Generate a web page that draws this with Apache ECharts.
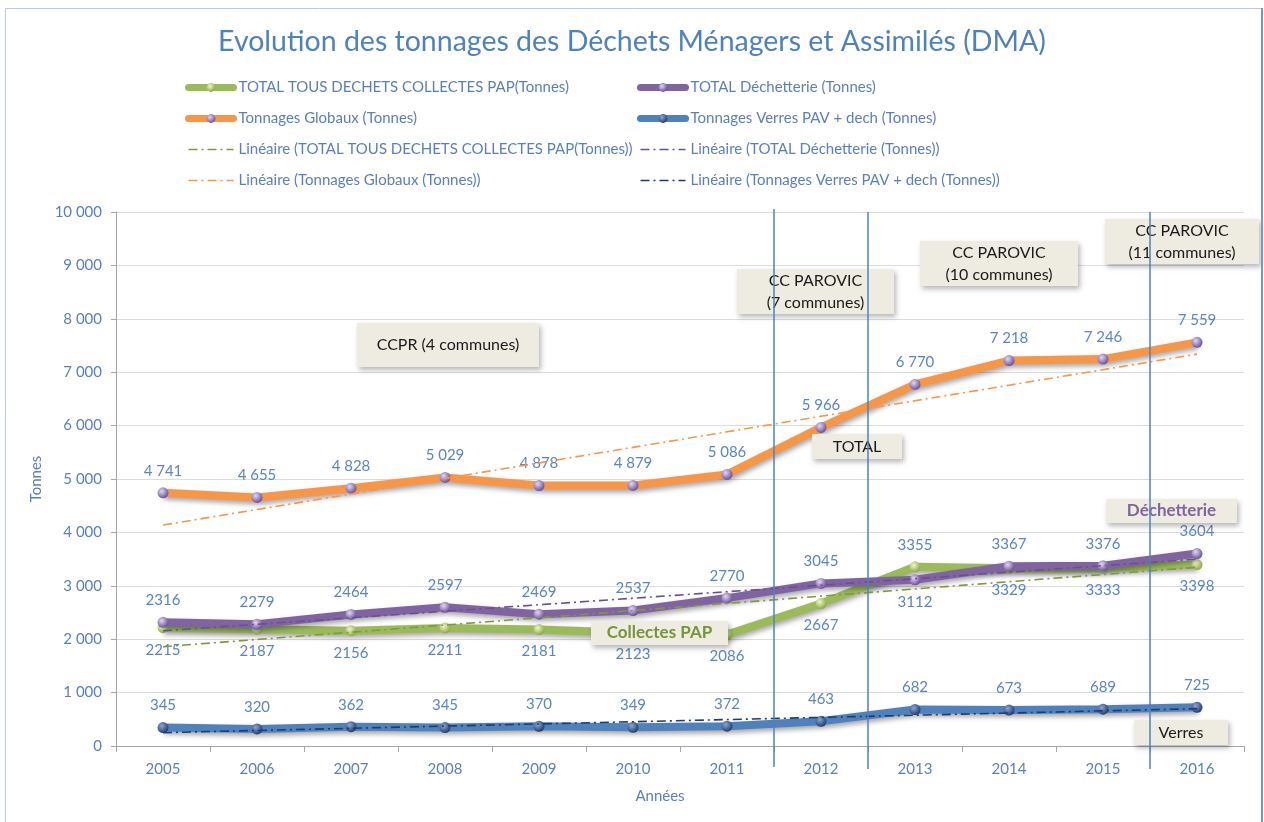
<!DOCTYPE html>
<html>
<head>
<meta charset="utf-8">
<script src="https://cdn.jsdelivr.net/npm/echarts@6/dist/echarts.min.js"></script>
<style>
html,body{margin:0;padding:0;background:#fff;}
#c{width:1264px;height:822px;}
</style>
</head>
<body>
<div id="c"></div>
<script>
// ---- data ----
var years = ['2005','2006','2007','2008','2009','2010','2011','2012','2013','2014','2015','2016'];
var collectesPAP = [2215, 2187, 2156, 2211, 2181, 2123, 2086, 2667, 3355, 3329, 3333, 3398];
var decheterie   = [2316, 2279, 2464, 2597, 2469, 2537, 2770, 3045, 3112, 3367, 3376, 3604];
var globaux      = [4741, 4655, 4828, 5029, 4878, 4879, 5086, 5966, 6770, 7218, 7246, 7559];
var verres       = [345, 320, 362, 345, 370, 349, 372, 463, 682, 673, 689, 725];
var yTicks = [0,1000,2000,3000,4000,5000,6000,7000,8000,9000,10000];

var names = {
  pap: 'TOTAL TOUS DECHETS COLLECTES PAP(Tonnes)',
  dech: 'TOTAL Déchetterie (Tonnes)',
  glob: 'Tonnages Globaux (Tonnes)',
  verr: 'Tonnages Verres PAV + dech (Tonnes)'
};

// Excel-style linear trend (least squares on the data)
function linear(arr){
  var n = arr.length, sx=0, sy=0, sxy=0, sxx=0;
  for (var i=0;i<n;i++){ sx+=i; sy+=arr[i]; sxy+=i*arr[i]; sxx+=i*i; }
  var b = (n*sxy - sx*sy)/(n*sxx - sx*sx), a = (sy - b*sx)/n;
  return arr.map(function(_,i){ return +(a+b*i).toFixed(1); });
}
function sp(v){ return String(v).replace(/\B(?=(\d{3})+(?!\d))/g,' '); }

var FONT = 'Lato';
var LBL = '#5b84c4';

function sphere(light, dark){
  return {type:'radial', x:0.38, y:0.35, r:0.75,
    colorStops:[{offset:0,color:light},{offset:1,color:dark}]};
}
var purpleBall = sphere('#e2d6f5','#5c3f8c');
var greenBall = sphere('#eef7c8','#7fa032');
var navyBall = sphere('#8aa6d6','#14305f');

function lineShadow(o){
  o.shadowColor='rgba(0,0,0,0.35)'; o.shadowBlur=5; o.shadowOffsetY=3; o.shadowOffsetX=1;
  return o;
}

var papData = collectesPAP.map(function(v,i){
  return {value:v, label:{position: v > decheterie[i] ? 'top' : 'bottom'}};
});
var dechData = decheterie.map(function(v,i){
  return {value:v, label:{position: v < collectesPAP[i] ? 'bottom' : 'top'}};
});

function mainSeries(name, data, lineColor, ball, fmt, z){
  return {
    name:name, type:'line', data:data, z:z,
    symbol:'circle', symbolSize:11, showAllSymbol:true,
    lineStyle:lineShadow({color:lineColor, width:8}),
    itemStyle:{color:ball, borderWidth:0},
    label:{show:true, position:'top', distance:9, color:LBL, fontFamily:FONT, fontSize:15, formatter: fmt},
    emphasis:{disabled:true}, animation:false
  };
}
function trendSeries(name, src, color, z){
  return {
    name:name, type:'line', data:linear(src), z:z,
    symbol:'none', showSymbol:false,
    lineStyle:{color:color, width:1.6, type:[9,4,2,4]},
    itemStyle:{color:color},
    emphasis:{disabled:true}, animation:false, silent:true
  };
}

var chart = echarts.init(document.getElementById('c'), null, {renderer:'canvas'});
var legendText = {color:'#5b7fbd', fontFamily:FONT, fontSize:15};

function legMain(n){ return {name:n, lineStyle:{width:7, shadowBlur:0, cap:'round'}}; }
function legTrend(n){ return {name:'Linéaire ('+n+')', lineStyle:{width:1.6}, itemStyle:{color:'rgba(0,0,0,0)', borderWidth:0, opacity:0}}; }

var option = {
  backgroundColor:'#fff',
  animation:false,
  title:{
    text:'Evolution des tonnages des Déchets Ménagers et Assimilés (DMA)',
    left:'center', top:22,
    textStyle:{color:'#4f81bd', fontFamily:FONT, fontSize:28.5, fontWeight:'normal'}
  },
  legend:[
    {orient:'vertical', left:180, top:75, itemWidth:45, itemHeight:11, itemGap:16,
     textStyle:legendText,
     data:[legMain(names.pap), legMain(names.glob), legTrend(names.pap), legTrend(names.glob)]},
    {orient:'vertical', left:632, top:75, itemWidth:45, itemHeight:11, itemGap:16,
     textStyle:legendText,
     data:[legMain(names.dech), legMain(names.verr), legTrend(names.dech), legTrend(names.verr)]}
  ],
  grid:{left:116, right:20, top:212, bottom:76, containLabel:false},
  xAxis:{
    type:'category', data:years, boundaryGap:true,
    axisLine:{lineStyle:{color:'#a6a6a6', width:1}},
    axisTick:{show:true, length:6, lineStyle:{color:'#a6a6a6'}},
    axisLabel:{color:'#5b7fbd', fontFamily:FONT, fontSize:15, margin:16},
    splitLine:{show:false}
  },
  yAxis:{
    type:'value', min:yTicks[0], max:yTicks[yTicks.length-1], interval:1000,
    name:'Tonnes', nameLocation:'middle', nameGap:71, nameRotate:90,
    nameTextStyle:{color:'#5b7fbd', fontFamily:FONT, fontSize:15},
    axisLine:{show:true, lineStyle:{color:'#a6a6a6'}},
    axisTick:{show:true, length:5, lineStyle:{color:'#a6a6a6'}},
    axisLabel:{color:'#5b7fbd', fontFamily:FONT, fontSize:15, margin:14, formatter:function(v){return sp(v);}},
    splitLine:{lineStyle:{color:'#dcdcdc', width:1}}
  },
  series:[
    mainSeries(names.pap, papData, '#9bbb59', greenBall, null, 3),
    mainSeries(names.dech, dechData, '#8064a2', purpleBall, null, 4),
    mainSeries(names.glob, globaux, '#f79646', purpleBall, function(p){return sp(p.value);}, 5),
    mainSeries(names.verr, verres, '#4f81bd', navyBall, null, 6),
    trendSeries('Linéaire ('+names.pap+')', collectesPAP, '#7f9a3a', 7),
    trendSeries('Linéaire ('+names.dech+')', decheterie, '#6b4f94', 7),
    trendSeries('Linéaire ('+names.glob+')', globaux, '#f79646', 7),
    trendSeries('Linéaire ('+names.verr+')', verres, '#1f3b73', 7)
  ]
};
chart.setOption(option);

// ---- annotations ----
function px(cat){ return chart.convertToPixel({xAxisIndex:0}, cat); }
function between(a,b){ return (px(a)+px(b))/2; }
var sepX = [between('2011','2012'), between('2012','2013'), between('2015','2016')];

var boxFill = '#eeece1';
function box(x,y,w,h,text,color,bold,size){
  return [
    {type:'rect', z:100, silent:true, shape:{x:x,y:y,width:w,height:h},
     style:{fill:boxFill, shadowColor:'rgba(0,0,0,0.28)', shadowBlur:5, shadowOffsetX:2, shadowOffsetY:3}},
    {type:'text', z:101, silent:true, x:x+w/2, y:y+h/2,
     style:{text:text, fill:color, font:(bold?'bold ':'')+(size||16)+'px '+FONT, align:'center', verticalAlign:'middle', lineHeight:22}}
  ];
}

var graphics = [
  {type:'rect', z:200, silent:true, shape:{x:5.5,y:8.5,width:1256,height:830},
   style:{fill:'none', stroke:'#b9c8de', lineWidth:1}},
  {type:'line', z:200, silent:true, shape:{x1:1262,y1:8,x2:1262,y2:822}, style:{stroke:'#7e97b9', lineWidth:2}},
  {type:'text', z:50, x:660, y:796, style:{text:'Années', fill:'#5b7fbd', font:'15px '+FONT, align:'center', verticalAlign:'middle'}}
];
var sepTop = [209, 212, 212], sepBot = [767, 769, 769];
sepX.forEach(function(x,i){
  graphics.push({type:'line', z:150, silent:true, shape:{x1:x,y1:sepTop[i],x2:x,y2:sepBot[i]}, style:{stroke:'#4f81bd', lineWidth:1.5}});
});
[
  box(357,323,182,44,'CCPR (4 communes)','#1a1a1a',false,16),
  box(737,269,157,45,'CC PAROVIC\n(7 communes)','#1a1a1a',false,16),
  box(920,241,158,45,'CC PAROVIC\n(10 communes)','#1a1a1a',false,16),
  box(1105,219,154,45,'CC PAROVIC\n(11 communes)','#1a1a1a',false,16),
  box(812,434,90,25,'TOTAL','#1a1a1a',false,16),
  box(1106,499,131,24,'Déchetterie','#8064a2',true,17),
  box(591,621,137,24,'Collectes PAP','#77933c',true,17),
  box(1134,720,94,25,'Verres','#1a1a1a',false,16)
].forEach(function(b){ graphics.push(b[0], b[1]); });

chart.setOption({graphic:graphics});
</script>
</body>
</html>
